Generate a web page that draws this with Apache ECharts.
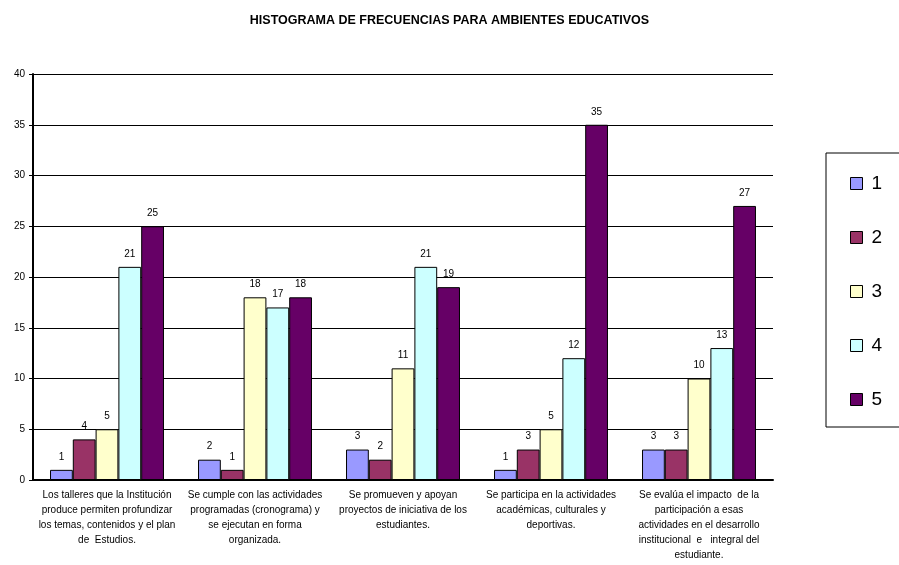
<!DOCTYPE html>
<html lang="es">
<head>
    <meta charset="UTF-8">
    <title>Histograma de frecuencias</title>
    <script src="https://cdn.jsdelivr.net/npm/echarts@6/dist/echarts.min.js"></script>
    <style>
        html, body { margin: 0; padding: 0; background: #ffffff; }
        #chart { width: 899px; height: 565px; }
    </style>
</head>
<body>
<div id="chart"></div>
<script>
    // categorias (preguntas)
    var categorias = [
        'Los talleres que la Institución\nproduce permiten profundizar\nlos temas, contenidos y el plan\nde  Estudios.',
        'Se cumple con las actividades\nprogramadas (cronograma) y\nse ejecutan en forma\norganizada.',
        'Se promueven y apoyan\nproyectos de iniciativa de los\nestudiantes.',
        'Se participa en la actividades\nacadémicas, culturales y\ndeportivas.',
        'Se evalúa el impacto  de la\nparticipación a esas\nactividades en el desarrollo\ninstitucional  e   integral del\nestudiante.'
    ];

    // frecuencias por respuesta
    var serie1 = [1, 2, 3, 1, 3];
    var serie2 = [4, 1, 2, 3, 3];
    var serie3 = [5, 18, 11, 5, 10];
    var serie4 = [21, 17, 21, 12, 13];
    var serie5 = [25, 18, 19, 35, 27];

    var nombres = ['1', '2', '3', '4', '5'];
    var colores = ['#9999FF', '#993366', '#FFFFCC', '#CCFFFF', '#660066'];
    var datos = [serie1, serie2, serie3, serie4, serie5];

    var series = datos.map(function (d, i) {
        return {
            name: nombres[i],
            type: 'bar',
            data: d,
            barGap: '0%',
            barCategoryGap: '23%',
            itemStyle: { color: colores[i], borderColor: '#000', borderWidth: 1 },
            label: {
                show: true,
                position: 'top',
                distance: 8,
                fontSize: 10,
                fontFamily: 'Liberation Sans, Arial',
                color: '#000'
            }
        };
    });

    var myChart = echarts.init(document.getElementById('chart'));
    myChart.setOption({
        animation: false,
        textStyle: { fontFamily: 'Liberation Sans, Arial' },
        title: {
            text: 'HISTOGRAMA DE FRECUENCIAS PARA AMBIENTES EDUCATIVOS',
            left: 'center',
            top: 9,
            textStyle: { fontSize: 12.5, fontWeight: 'bold', color: '#000', fontFamily: 'Liberation Sans, Arial' }
        },
        legend: {
            orient: 'vertical',
            left: 826,
            top: 153,
            padding: [21, 40, 18, 24],
            itemGap: 35,
            itemWidth: 12,
            itemHeight: 12,
            borderColor: '#000',
            borderWidth: 1,
            icon: 'rect',
            itemStyle: { borderColor: '#000', borderWidth: 1 },
            textStyle: { fontSize: 19, color: '#000', padding: [14, 0, 0, 4], fontFamily: 'Liberation Sans, Arial' },
            data: nombres
        },
        grid: { left: 33, right: 126, top: 74, bottom: 85 },
        xAxis: {
            type: 'category',
            data: categorias,
            axisLine: { lineStyle: { color: '#000', width: 2 } },
            axisTick: { length: 4, lineStyle: { color: '#000' } },
            axisLabel: {
                interval: 0,
                fontSize: 10,
                lineHeight: 15,
                margin: 8,
                color: '#000',
                fontFamily: 'Liberation Sans, Arial'
            }
        },
        yAxis: {
            type: 'value',
            min: 0,
            max: 40,
            interval: 5,
            axisLine: { show: true, lineStyle: { color: '#000', width: 2 } },
            axisTick: { show: true, length: 4, lineStyle: { color: '#000' } },
            axisLabel: { fontSize: 10, color: '#000', margin: 8, fontFamily: 'Liberation Sans, Arial' },
            splitLine: { lineStyle: { color: '#000', width: 1 } }
        },
        series: series
    });
</script>
</body>
</html>
